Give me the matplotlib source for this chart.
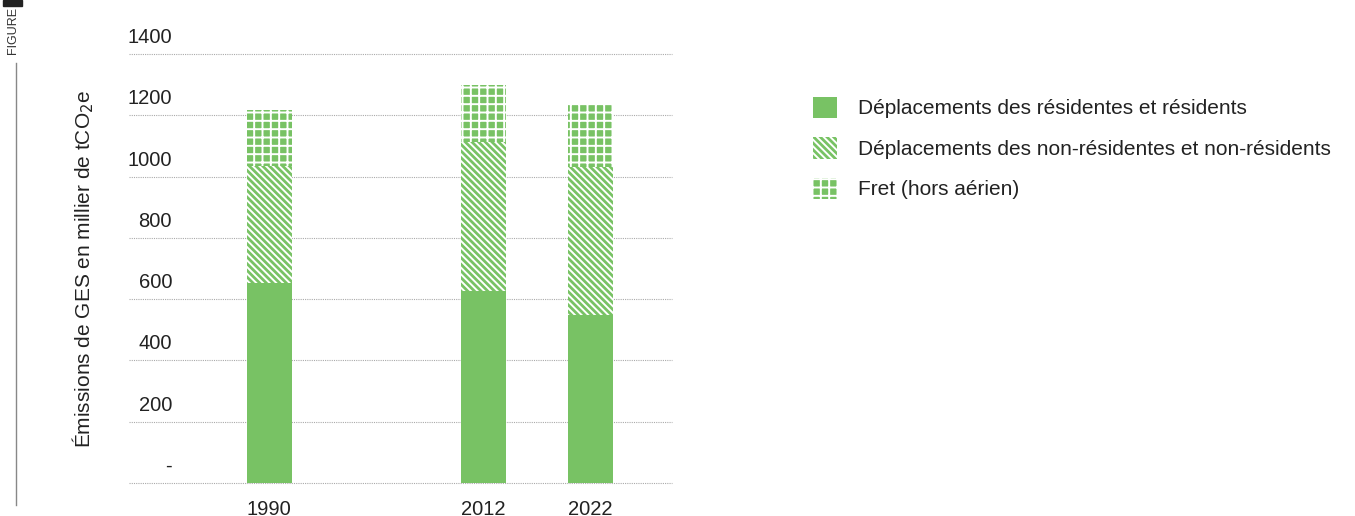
import matplotlib
matplotlib.use("Agg")
import matplotlib.pyplot as plt
from matplotlib.transforms import ScaledTranslation
from matplotlib.patches import Rectangle
from matplotlib.lines import Line2D

plt.rcParams['font.family'] = ['Liberation Sans', 'DejaVu Sans']
plt.rcParams['hatch.linewidth'] = 1.4

years = ['1990', '2012', '2022']
residents = [653, 627, 548]
non_residents = [381, 485, 484]
freight = [183, 186, 204]
series_labels = ['Déplacements des résidentes et résidents',
                 'Déplacements des non-résidentes et non-résidents',
                 'Fret (hors aérien)']
yticks = [0, 200, 400, 600, 800, 1000, 1200, 1400]
ytick_labels = ['-', '200', '400', '600', '800', '1000', '1200', '1400']

green = '#78C264'
x_pos = [0, 2, 3]
width = 0.42

fig = plt.figure(figsize=(13.55, 5.16), dpi=100)
ax = fig.add_axes([129/1355, 1-483/516, (672-129)/1355, (483-54)/516])

b1 = ax.bar(x_pos, residents, width, color=green, linewidth=0, label=series_labels[0], zorder=3)
bottom2 = residents
b2 = ax.bar(x_pos, non_residents, width, bottom=bottom2, facecolor=green, edgecolor='white',
            hatch='\\\\\\\\\\', linewidth=0, label=series_labels[1], zorder=3)
bottom3 = [a + b for a, b in zip(residents, non_residents)]
b3 = ax.bar(x_pos, freight, width, bottom=bottom3, facecolor=green, edgecolor='white',
            hatch='++', linewidth=0, label=series_labels[2], zorder=3)

ax.set_ylim(0, 1400)
ax.set_xlim(-1.31, 3.76)
for s in ax.spines.values():
    s.set_visible(False)
ax.set_yticks(yticks)
ax.set_yticklabels(ytick_labels)
ax.set_xticks(x_pos)
ax.set_xticklabels(years)
ax.tick_params(axis='y', length=0, pad=-31, labelsize=14.5, colors='#222222')
ax.tick_params(axis='x', length=0, pad=12, labelsize=14.5, colors='#222222')
off = ScaledTranslation(0, 5/72, fig.dpi_scale_trans)
for lab in ax.get_yticklabels():
    lab.set_verticalalignment('bottom')
    lab.set_horizontalalignment('right')
    lab.set_transform(lab.get_transform() + off)
ax.yaxis.grid(True, linestyle=(0, (1, 1)), color='#aaaaaa', linewidth=0.8, zorder=0)
for gl in ax.yaxis.get_gridlines():
    gl.set_clip_on(False)
ax.set_axisbelow(True)

ax.set_ylabel('Émissions de GES en millier de tCO$_2$e', fontsize=15, color='#222222')
ax.yaxis.set_label_coords(-0.061, 0.5)

leg = fig.legend(handles=[b1, b2, b3], loc='upper left', bbox_to_anchor=(794/1355, 1-78/516),
                 frameon=False, fontsize=15, handlelength=1.15, handleheight=1.2,
                 handletextpad=1.0, labelspacing=0.9)
for t in leg.get_texts():
    t.set_color('#222222')

# side decoration
fig.text(13/1355, 1-30/516, 'FIGURE', rotation=90, fontsize=9, color='#333333',
         ha='center', va='center')
fig.add_artist(Line2D([16/1355, 16/1355], [1-63/516, 1-505/516], color='#888888', lw=1,
                      transform=fig.transFigure))
fig.add_artist(Rectangle((3/1355, 1-6/516), 19/1355, 6/516, color='#222222',
                         transform=fig.transFigure))

fig.savefig('out.png', dpi=100)
